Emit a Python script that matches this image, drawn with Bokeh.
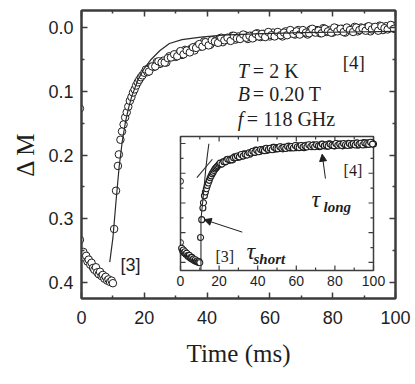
from math import pi
from bokeh.plotting import figure
from bokeh.models import (Range1d, LinearAxis, FixedTicker, Title, Arrow, NormalHead,
                          CustomJSTickFormatter, ColumnDataSource)
from bokeh.core.properties import value
from bokeh.embed import file_html
from bokeh.resources import INLINE

# ---------------- data ----------------
time_ms = [-0.5, -0.5,
           0.6, 1.1, 1.5, 1.9, 2.3, 2.8, 3.2, 3.7, 4.1, 4.6, 5.0, 5.5, 5.9, 6.4, 6.8, 7.3, 7.7, 8.2, 8.6, 9.1, 9.6, 10.0,
           10.4, 11.0, 11.6, 11.9, 12.4, 12.9, 13.4, 13.9, 14.4, 14.9, 15.4, 15.9, 16.4, 16.9, 17.4, 17.9, 18.4, 18.9, 19.4, 20.0,
           21, 22, 23, 24, 25, 26, 27, 28, 29, 30,
           31, 32, 33, 34, 35, 36, 37, 38, 39, 40,
           41, 42, 43, 44, 45, 46, 47, 48, 49, 50,
           51, 52, 53, 54, 55, 56, 57, 58, 59, 60,
           61, 62, 63, 64, 65, 66, 67, 68, 69, 70,
           71, 72, 73, 74, 75, 76, 77, 78, 79, 80,
           81, 82, 83, 84, 85, 86, 87, 88, 89, 90,
           91, 92, 93, 94, 95, 96, 97, 98, 99, 100]
delta_m = [0.127, 0.333,
           0.352, 0.361, 0.358, 0.367, 0.364, 0.372, 0.369, 0.377, 0.380, 0.376, 0.384, 0.387, 0.383, 0.390, 0.388,
           0.394, 0.391, 0.397, 0.395, 0.399, 0.397, 0.401,
           0.316, 0.256, 0.217, 0.199, 0.176, 0.163, 0.152, 0.141, 0.133, 0.124, 0.115, 0.109, 0.102, 0.097, 0.091,
           0.086, 0.082, 0.078, 0.075, 0.071,
           0.070, 0.062, 0.062, 0.054, 0.057, 0.052, 0.055, 0.045, 0.046, 0.046,
           0.040, 0.043, 0.035, 0.037, 0.033, 0.036, 0.028, 0.030, 0.022, 0.026,
           0.027, 0.020, 0.023, 0.017, 0.023, 0.017, 0.020, 0.013, 0.019, 0.014,
           0.016, 0.012, 0.018, 0.013, 0.015, 0.009, 0.015, 0.010, 0.012, 0.014,
           0.008, 0.012, 0.009, 0.014, 0.006, 0.010, 0.006, 0.011, 0.004, 0.009,
           0.006, 0.011, 0.003, 0.007, 0.004, 0.009, 0.001, 0.007, 0.004, 0.008,
           0.001, 0.005, 0.002, 0.008, 0.002, 0.005, -0.001, 0.006, 0.000, 0.003,
           -0.001, 0.006, 0.000, 0.003, -0.003, 0.004, -0.002, 0.001, -0.003, 0.002]
# interleaved half-millisecond samples of the relaxation
time_ms_b = [20.5, 21.5, 22.5, 23.5, 24.5, 25.5, 26.5, 27.5, 28.5, 29.5,
             30.5, 31.5, 32.5, 33.5, 34.5, 35.5, 36.5, 37.5, 38.5, 39.5,
             40.5, 41.5, 42.5, 43.5, 44.5, 45.5, 46.5, 47.5, 48.5, 49.5,
             50.5, 51.5, 52.5, 53.5, 54.5, 55.5, 56.5, 57.5, 58.5, 59.5,
             60.5, 61.5, 62.5, 63.5, 64.5, 65.5, 66.5, 67.5, 68.5, 69.5,
             70.5, 71.5, 72.5, 73.5, 74.5, 75.5, 76.5, 77.5, 78.5, 79.5,
             80.5, 81.5, 82.5, 83.5, 84.5, 85.5, 86.5, 87.5, 88.5, 89.5,
             90.5, 91.5, 92.5, 93.5, 94.5, 95.5, 96.5, 97.5, 98.5, 99.5]
delta_m_b = [0.066, 0.069, 0.061, 0.061, 0.053, 0.055, 0.055, 0.048, 0.047, 0.042,
             0.045, 0.037, 0.042, 0.036, 0.039, 0.031, 0.032, 0.026, 0.030, 0.023,
             0.028, 0.020, 0.022, 0.024, 0.016, 0.020, 0.016, 0.021, 0.013, 0.017,
             0.018, 0.011, 0.016, 0.013, 0.017, 0.010, 0.014, 0.010, 0.015, 0.007,
             0.012, 0.014, 0.007, 0.012, 0.008, 0.012, 0.004, 0.010, 0.006, 0.011,
             0.004, 0.008, 0.009, 0.002, 0.008, 0.005, 0.009, 0.002, 0.006, 0.008,
             0.000, 0.006, 0.002, 0.007, 0.000, 0.004, 0.007, 0.000, 0.004, 0.001,
             0.005, -0.002, 0.003, -0.001, 0.005, -0.002, 0.001, 0.003, -0.004, 0.002]
assert len(time_ms) == len(delta_m) and len(time_ms_b) == len(delta_m_b)

# fitted curve of the main panel
fit_t = [9.0, 10.0, 11.0, 12.0, 13.0, 14.0, 15.0, 16.0, 18.0, 20.0, 22.0, 25.0, 28.0, 32.0, 38.0, 45.0, 55.0, 70.0, 85.0, 100.0]
fit_v = [0.368, 0.330, 0.272, 0.218, 0.178, 0.148, 0.126, 0.108, 0.082, 0.064, 0.051, 0.036, 0.025, 0.019, 0.015, 0.012,
         0.010, 0.008, 0.007, 0.006]

# inset: tangent lines for tau_short and tau_long
short_t = [10.6, 10.6, 11.6, 12.4, 13.0, 13.8, 14.7]
short_v = [0.425, 0.255, 0.190, 0.135, 0.091, 0.046, 0.001]
long_t = [8.5, 16.5]
long_v = [0.115, 0.053]

# ticks
x_ticks = [0, 20, 40, 60, 80, 100]
x_tick_labels = ["0", "20", "40", "60", "80", "100"]
x_minor = [10, 30, 50, 70, 90]
y_ticks = [0.0, 0.1, 0.2, 0.3, 0.4]
y_tick_labels = ["0.0", "0.1", "0.2", "0.3", "0.4"]
y_minor = [0.05, 0.15, 0.25, 0.35]

all_t = time_ms + time_ms_b
all_v = delta_m + delta_m_b

# ---------------- layout ----------------
W, H = 412, 380
BL, BR, BT, BB = 81, 17, 10, 82
FW, FH = W - BL - BR, H - BT - BB
X0, X1 = 0, 100
Y_TOP, Y_BOT = -0.0267, 0.425

# inset box in frame pixels (from frame left / frame top)
IL, IR, IT, IB = 99, 292, 126, 260
IY_TOP, IY_BOT = -0.0235, 0.427
ipx = (IR - IL) / (X1 - X0)
ipy = (IB - IT) / (IY_BOT - IY_TOP)
inset_x = Range1d(start=X0 - IL / ipx, end=X1 + (FW - IR) / ipx)
inset_y = Range1d(start=IY_BOT + (FH - IB) / ipy, end=IY_TOP - IT / ipy)

FRAME = "#3c3c3c"
INK = "#1e1e1e"
SERIF = "Liberation Serif"
SANS = "Liberation Sans"

p = figure(width=W, height=H, x_range=Range1d(X0, X1), y_range=Range1d(start=Y_BOT, end=Y_TOP),
           x_axis_type=None, y_axis_type=None, output_backend="svg", toolbar_location=None,
           min_border_left=BL, min_border_right=BR, min_border_top=BT, min_border_bottom=BB)
p.extra_x_ranges = {"ix": inset_x}
p.extra_y_ranges = {"iy": inset_y}
p.outline_line_color = FRAME
p.outline_line_width = 2
p.background_fill_color = "white"
p.border_fill_color = "white"

fmt_code = """
let best = 0, bd = Infinity;
for (let i = 0; i < tv.length; i++) { const d = Math.abs(tv[i] - tick); if (d < bd) { bd = d; best = i; } }
return lab[best];
"""


def style(ax, show_labels, standoff=8):
    ax.major_tick_in = 6
    ax.major_tick_out = 0
    ax.minor_tick_in = 3
    ax.minor_tick_out = 0
    ax.axis_line_color = FRAME
    ax.axis_line_width = 2
    ax.major_tick_line_color = FRAME
    ax.minor_tick_line_color = FRAME
    ax.major_tick_line_width = 1.5
    ax.minor_tick_line_width = 1.5
    if show_labels:
        ax.major_label_text_font = SANS
        ax.major_label_text_font_size = "18px"
        ax.major_label_text_color = INK
        ax.major_label_standoff = standoff
    else:
        ax.major_label_text_font_size = "0px"
        ax.major_label_standoff = 0
        ax.formatter = CustomJSTickFormatter(code="return ''")


xb = LinearAxis(ticker=FixedTicker(ticks=x_ticks, minor_ticks=x_minor),
                formatter=CustomJSTickFormatter(args=dict(tv=x_ticks, lab=x_tick_labels), code=fmt_code))
style(xb, True, 12)
xb.axis_label = "Time (ms)"
xb.axis_label_text_font = SERIF
xb.axis_label_text_font_style = "normal"
xb.axis_label_text_font_size = "25px"
xb.axis_label_text_color = INK
xb.axis_label_standoff = 13
p.add_layout(xb, "below")

yl = LinearAxis(ticker=FixedTicker(ticks=y_ticks, minor_ticks=y_minor),
                formatter=CustomJSTickFormatter(args=dict(tv=y_ticks, lab=y_tick_labels), code=fmt_code))
style(yl, True, 8)
p.add_layout(yl, "left")

p.add_layout(Title(text="Δ M", align="center", offset=-18, standoff=13, text_font=SERIF,
                   text_font_style="normal", text_font_size="25px", text_color=INK), "left")

xt = LinearAxis(ticker=FixedTicker(ticks=x_ticks, minor_ticks=x_minor))
style(xt, False)
p.add_layout(xt, "above")
yr = LinearAxis(ticker=FixedTicker(ticks=y_ticks, minor_ticks=y_minor))
style(yr, False)
p.add_layout(yr, "right")

# ---------------- main panel ----------------
src = ColumnDataSource(dict(t=all_t, v=all_v))
p.scatter("t", "v", source=src, size=7.5, fill_color="white", line_color=INK, line_width=1)
p.line(fit_t, fit_v, line_color="#2a2a2a", line_width=1.2)

p.text(x=[49.8, 49.8, 49.8], y=[0.0675, 0.105, 0.143], text=["T", "B", "f"],
       text_font=value(SERIF), text_font_style="italic", text_font_size="20px", text_color=INK,
       text_baseline="alphabetic")
p.text(x=[49.8, 49.8, 49.8], y=[0.0675, 0.105, 0.143], text=["= 2 K", "= 0.20 T", "= 118 GHz"],
       x_offset=[15, 15, 9], text_font=value(SERIF), text_font_size="20px", text_color=INK,
       text_baseline="alphabetic")
p.text(x=[12.4], y=[0.373], text=["[3]"], text_font=value(SANS), text_font_size="18px", text_color=INK,
       text_baseline="alphabetic")
p.text(x=[83.2], y=[0.055], text=["[4]"], text_font=value(SERIF), text_font_size="19px", text_color=INK,
       text_baseline="alphabetic")

# ---------------- inset ----------------
R = dict(x_range_name="ix", y_range_name="iy")
p.quad(left=[X0], right=[X1], top=[IY_TOP], bottom=[IY_BOT], fill_color="white",
       line_color=FRAME, line_width=1.5, **R)

for ticks, L in ((x_ticks, 5), (x_minor, 3)):
    p.segment(x0=ticks, y0=[IY_BOT] * len(ticks), x1=ticks, y1=[IY_BOT - L / ipy] * len(ticks),
              line_color=FRAME, line_width=1.2, **R)
    p.segment(x0=ticks, y0=[IY_TOP] * len(ticks), x1=ticks, y1=[IY_TOP + L / ipy] * len(ticks),
              line_color=FRAME, line_width=1.2, **R)
for ticks, L in ((y_ticks, 5), (y_minor, 3)):
    p.segment(x0=[X0] * len(ticks), y0=ticks, x1=[X0 + L / ipx] * len(ticks), y1=ticks,
              line_color=FRAME, line_width=1.2, **R)
    p.segment(x0=[X1] * len(ticks), y0=ticks, x1=[X1 - L / ipx] * len(ticks), y1=ticks,
              line_color=FRAME, line_width=1.2, **R)

p.text(x=x_ticks, y=[IY_BOT] * len(x_ticks), text=x_tick_labels, y_offset=5,
       text_align="center", text_baseline="top", text_font=value(SANS), text_font_size="14px",
       text_color=INK, **R)

in_t = [t for t in all_t if t >= 0]
in_v = [v for t, v in zip(all_t, all_v) if t >= 0]
edge_v = [v for t, v in zip(all_t, all_v) if t < 0]
p.scatter(in_t, in_v, size=6, fill_color="white", line_color=INK, line_width=1.1, **R)
p.arc(x=[X0] * len(edge_v), y=edge_v, radius=3, radius_units="screen", start_angle=-pi / 2,
      end_angle=pi / 2, line_color=INK, line_width=1, **R)
p.line(short_t, short_v, line_color="#2a2a2a", line_width=1.1, **R)
p.line(long_t, long_v, line_color="#2a2a2a", line_width=1.1, **R)

p.add_layout(Arrow(end=NormalHead(size=7, fill_color=INK, line_color=INK), x_start=32.0, y_start=0.298,
                   x_end=12.3, y_end=0.256, line_color=INK, line_width=1, **R))
p.add_layout(Arrow(end=NormalHead(size=7, fill_color=INK, line_color=INK), x_start=75.1, y_start=0.118,
                   x_end=73.4, y_end=0.036, line_color=INK, line_width=1, **R))

p.text(x=[34.2, 67.9], y=[0.36, 0.185], text=["τ", "τ"], text_font=value(SERIF), text_font_style="italic",
       text_font_size="24px", text_color=INK, text_baseline="alphabetic", **R)
p.text(x=[37.8, 74.1], y=[0.387, 0.212], text=["short", "long"], text_font=value(SERIF),
       text_font_style="bold italic", text_font_size="15px", text_color=INK, text_baseline="alphabetic", **R)
p.text(x=[18.1, 84.5], y=[0.38, 0.091], text=["[3]", "[4]"], text_font=value(SERIF),
       text_font_size="16px", text_color=INK, text_baseline="alphabetic", **R)

open("out.html", "w").write(file_html(p, INLINE))
